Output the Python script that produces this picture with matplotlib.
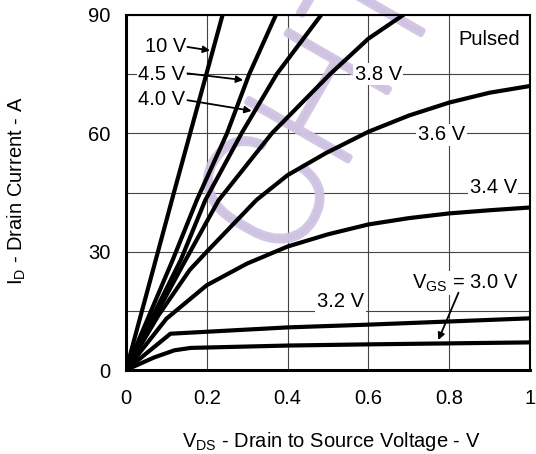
import numpy as np
import matplotlib
matplotlib.use('Agg')
import matplotlib.pyplot as plt
import matplotlib.patheffects as pe

plt.rcParams['font.family'] = ['Liberation Sans', 'DejaVu Sans']
plt.rcParams['mathtext.fontset'] = 'custom'
plt.rcParams['mathtext.rm'] = 'Liberation Sans'

# output characteristics (VDS in V, ID in A)
vds_10v = [0, 0.12, 0.239]
id_10v = [0, 45.5, 90]

vds_45v = [0, 0.116, 0.175, 0.25, 0.305, 0.371]
id_45v = [0, 28, 43, 60, 75, 90]

vds_40v = [0, 0.136, 0.196, 0.286, 0.373, 0.483]
id_40v = [0, 28, 43, 60, 75, 90]

vds_38v = [0, 0.14, 0.229, 0.361, 0.505, 0.6, 0.686]
id_38v = [0, 26.5, 43, 60, 75, 84.0, 90]

vds_36v = [0, 0.08, 0.158, 0.2, 0.323, 0.4, 0.495, 0.6, 0.7, 0.8, 0.9, 1.0]
id_36v = [0, 13.8, 25.4, 30, 43.1, 49.4, 55, 60.4, 64.5, 67.8, 70.3, 72.0]

vds_34v = [0, 0.1, 0.2, 0.3, 0.4, 0.5, 0.6, 0.7, 0.8, 0.9, 1.0]
id_34v = [0, 13, 21.5, 27, 31.3, 34.4, 36.9, 38.5, 39.7, 40.5, 41.2]

vds_32v = [0, 0.11, 0.4, 0.6, 1.0]
id_32v = [0, 9.2, 10.8, 11.5, 13.1]

vds_30v = [0, 0.07, 0.12, 0.16, 0.4, 0.6, 1.0]
id_30v = [0, 3.2, 5.0, 5.6, 6.2, 6.5, 7.0]

curves = [(vds_10v, id_10v), (vds_45v, id_45v), (vds_40v, id_40v),
          (vds_38v, id_38v), (vds_36v, id_36v), (vds_34v, id_34v),
          (vds_32v, id_32v), (vds_30v, id_30v)]

x_ticks = [0, 0.2, 0.4, 0.6, 0.8, 1.0]
x_ticklabels = ['0', '0.2', '0.4', '0.6', '0.8', '1']
y_ticks = [0, 15, 30, 45, 60, 75, 90]
y_ticklabels = ['0', '', '30', '', '60', '', '90']

FS = 14.5

fig = plt.figure(figsize=(5.36, 4.54), dpi=100)
ax = fig.add_axes([126/536, 1 - 370/454, 404/536, 355/454])

for vds, i_d in curves:
    ax.plot(vds, i_d, color='black', lw=3.0, solid_joinstyle='round', zorder=3)

ax.set_xlim(0, 1)
ax.set_ylim(0, 90)
ax.set_xticks(x_ticks)
ax.set_xticklabels(x_ticklabels)
ax.set_yticks(y_ticks)
ax.set_yticklabels(y_ticklabels)
ax.tick_params(length=0, labelsize=FS)
ax.tick_params(axis='x', pad=13.5)
ax.tick_params(axis='y', pad=11)
ax.set_axisbelow(True)
ax.grid(True, color='#444444', lw=0.8)
for name, s in ax.spines.items():
    s.set_linewidth(2.2 if name in ('left', 'bottom') else 1.5)

# watermark
wm_color = '#cfc2e2'
ax.text(328/536, 1 - 106/454, 'CHT', transform=fig.transFigure, rotation=60,
        fontsize=118, color=wm_color, alpha=0.9, ha='center', va='center',
        zorder=1, clip_on=False, family=['Roboto', 'DejaVu Sans'], fontweight='light',
        path_effects=[pe.withStroke(linewidth=4, foreground=wm_color)])

box = dict(boxstyle='square,pad=0.08', fc='white', ec='none')

def label(x, y, s):
    ax.text(x, y, s, ha='center', va='center', fontsize=FS, zorder=2.5, bbox=box)

def arrow(start, tip):
    ax.annotate('', xy=tip, xytext=start, zorder=4,
                arrowprops=dict(arrowstyle='-|>', color='black', lw=1.3,
                                mutation_scale=10, shrinkA=0, shrinkB=0))

label(0.098, 81.9, '10 V')
arrow((0.152, 81.9), (0.208, 81.0))
label(0.089, 75.0, '4.5 V')
arrow((0.152, 75.2), (0.29, 73.5))
label(0.089, 68.5, '4.0 V')
arrow((0.152, 68.4), (0.311, 65.7))
label(0.624, 75.0, '3.8 V')
label(0.781, 59.6, '3.6 V')
label(0.909, 46.3, '3.4 V')
label(0.531, 17.3, '3.2 V')
label(0.839, 22.0, r'$\mathregular{V_{GS}}$ = 3.0 V')
arrow((0.823, 19.6), (0.773, 7.6))
ax.text(0.899, 83.7, 'Pulsed', ha='center', va='center', fontsize=FS, zorder=2.5)

fig.text(331/536, 1 - 447/454, r'$\mathregular{V_{DS}}$ - Drain to Source Voltage - V',
         ha='center', va='baseline', fontsize=FS)
fig.text(17/536, 1 - 191/454, r'$\mathregular{I_D}$ - Drain Current - A',
         rotation=90, ha='center', va='center', fontsize=FS)

fig.savefig('out.png', dpi=100)
